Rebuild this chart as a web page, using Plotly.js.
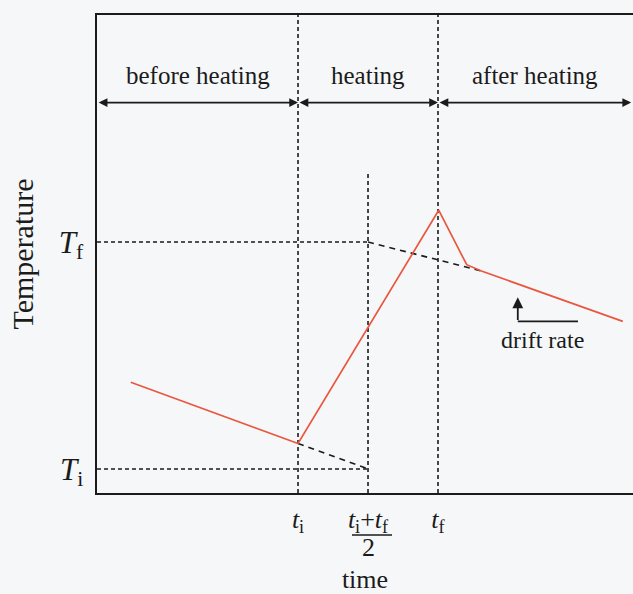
<!DOCTYPE html>
<html>
<head>
<meta charset="utf-8">
<script src="https://cdn.plot.ly/plotly-3.0.1.min.js"></script>
<style>
  html, body { margin: 0; padding: 0; background: #f6f7f9; }
  #chart { width: 633px; height: 594px; }
</style>
</head>
<body>
<div id="chart"></div>
<script>
// Temperature record of a calorimetric heating run
const curveTime = [0.61, 3.0, 5.01, 5.41, 5.62, 7.64];
const curveTemp = [21.91, 20.56, 25.70, 24.50, 24.36, 23.25];

// characteristic times and temperatures
const tInitial = 3.0;
const tFinal = 5.0;
const tMid = 4.0;
const TInitial = 20.0;
const TFinal = 25.0;

// extrapolations of the drift lines to the mid time
const preExtrapTime = [3.0, 4.0];
const preExtrapTemp = [20.56, 20.0];
const postExtrapTime = [4.0, 5.62];
const postExtrapTemp = [25.0, 24.36];

// period boundaries and their labels
const phaseBounds = [0.13, 3.0, 5.0, 7.76];
const phaseLabels = ['before heating', 'heating', 'after heating'];
const phaseLabelTemp = 28.66;
const phaseArrowTemp = 28.07;

// axis labels
const xTickVals = [3, 4, 5];
const xTickText = ['<i>t</i><sub>i</sub>', '<i>t</i><sub>i</sub>+<i>t</i><sub>f</sub>', '<i>t</i><sub>f</sub>'];
const yTickVals = [20, 25];
const yTickText = ['<i>T</i><sub>i</sub>', '<i>T</i><sub>f</sub>'];

// drift-rate marker
const driftArrowTime = 6.14;
const driftArrowTemp = [23.25, 23.78];
const driftFootTime = [6.14, 7.0];
const driftLabel = 'drift rate';
const driftLabelPos = [6.5, 22.84];

const midLineTop = 26.53;
const xRange = [0.128, 7.786];
const yRange = [19.47, 30.0];

const ink = '#1b1b1b';
const red = '#e9573f';
const serif = 'Liberation Serif';
const fineDots = '4px,3px';
const longDash = '6px,5px';

function dashed(x, y, dash) {
  return {x: x, y: y, mode: 'lines', hoverinfo: 'skip',
          line: {color: ink, width: 1.6, dash: dash || fineDots}};
}

const traces = [
  dashed([tInitial, tInitial], [yRange[0], yRange[1]]),
  dashed([tFinal, tFinal], [yRange[0], yRange[1]]),
  dashed([tMid, tMid], [yRange[0], midLineTop]),
  dashed([xRange[0], tMid], [TFinal, TFinal]),
  dashed([xRange[0], tMid], [TInitial, TInitial]),
  dashed(preExtrapTime, preExtrapTemp, longDash),
  dashed(postExtrapTime, postExtrapTemp, longDash),
  {x: curveTime, y: curveTemp, mode: 'lines', hoverinfo: 'skip',
   line: {color: red, width: 1.7}},
  {x: driftFootTime, y: [driftArrowTemp[0], driftArrowTemp[0]], mode: 'lines',
   hoverinfo: 'skip', line: {color: ink, width: 1.8}}
];

const annotations = [];
for (let k = 0; k < phaseLabels.length; k++) {
  const a = phaseBounds[k], b = phaseBounds[k + 1];
  annotations.push({
    x: b, y: phaseArrowTemp, ax: a, ay: phaseArrowTemp,
    xref: 'x', yref: 'y', axref: 'x', ayref: 'y',
    showarrow: true, arrowhead: 2, arrowside: 'end+start',
    arrowsize: 1.1, arrowwidth: 1.6, arrowcolor: ink, text: ''
  });
  annotations.push({
    x: (a + b) / 2, y: phaseLabelTemp, xref: 'x', yref: 'y',
    text: phaseLabels[k], showarrow: false,
    font: {family: serif, size: 25, color: ink}
  });
}
annotations.push({
  x: driftArrowTime, y: driftArrowTemp[1], ax: driftArrowTime, ay: driftArrowTemp[0],
  xref: 'x', yref: 'y', axref: 'x', ayref: 'y',
  showarrow: true, arrowhead: 2, arrowsize: 1.2, arrowwidth: 1.8, arrowcolor: ink, text: ''
});
annotations.push({
  x: driftLabelPos[0], y: driftLabelPos[1], xref: 'x', yref: 'y',
  text: driftLabel, showarrow: false,
  font: {family: serif, size: 24, color: ink}
});
// denominator of the mid-time label
annotations.push({
  x: tMid, y: -0.115, xref: 'x', yref: 'paper', yanchor: 'middle',
  text: '2', showarrow: false,
  font: {family: serif, size: 26, color: ink}
});

const layout = {
  width: 633, height: 594,
  margin: {l: 97, r: 0, t: 15, b: 101},
  paper_bgcolor: '#f6f7f9', plot_bgcolor: '#f6f7f9',
  showlegend: false,
  font: {family: serif, color: ink},
  xaxis: {
    range: xRange, showgrid: false, zeroline: false,
    showline: true, mirror: true, linecolor: ink, linewidth: 1.6,
    tickmode: 'array', tickvals: xTickVals, ticktext: xTickText,
    ticks: '', ticklabelstandoff: 2,
    tickfont: {family: serif, size: 26, color: ink},
    title: {text: 'time', standoff: 50, font: {family: serif, size: 26, color: ink}}
  },
  yaxis: {
    range: yRange, showgrid: false, zeroline: false,
    showline: true, mirror: false, linecolor: ink, linewidth: 1.6,
    tickmode: 'array', tickvals: yTickVals, ticktext: yTickText,
    ticks: '', ticklabelstandoff: 6,
    tickfont: {family: serif, size: 31, color: ink},
    title: {text: 'Temperature', standoff: 16, font: {family: serif, size: 30, color: ink}}
  },
  shapes: [{
    type: 'line', xref: 'paper', yref: 'paper',
    x0: 0.4757, x1: 0.5504, y0: -0.088, y1: -0.088,
    line: {color: ink, width: 1.6}
  }],
  annotations: annotations
};

Plotly.newPlot('chart', traces, layout, {staticPlot: true});
</script>
</body>
</html>
